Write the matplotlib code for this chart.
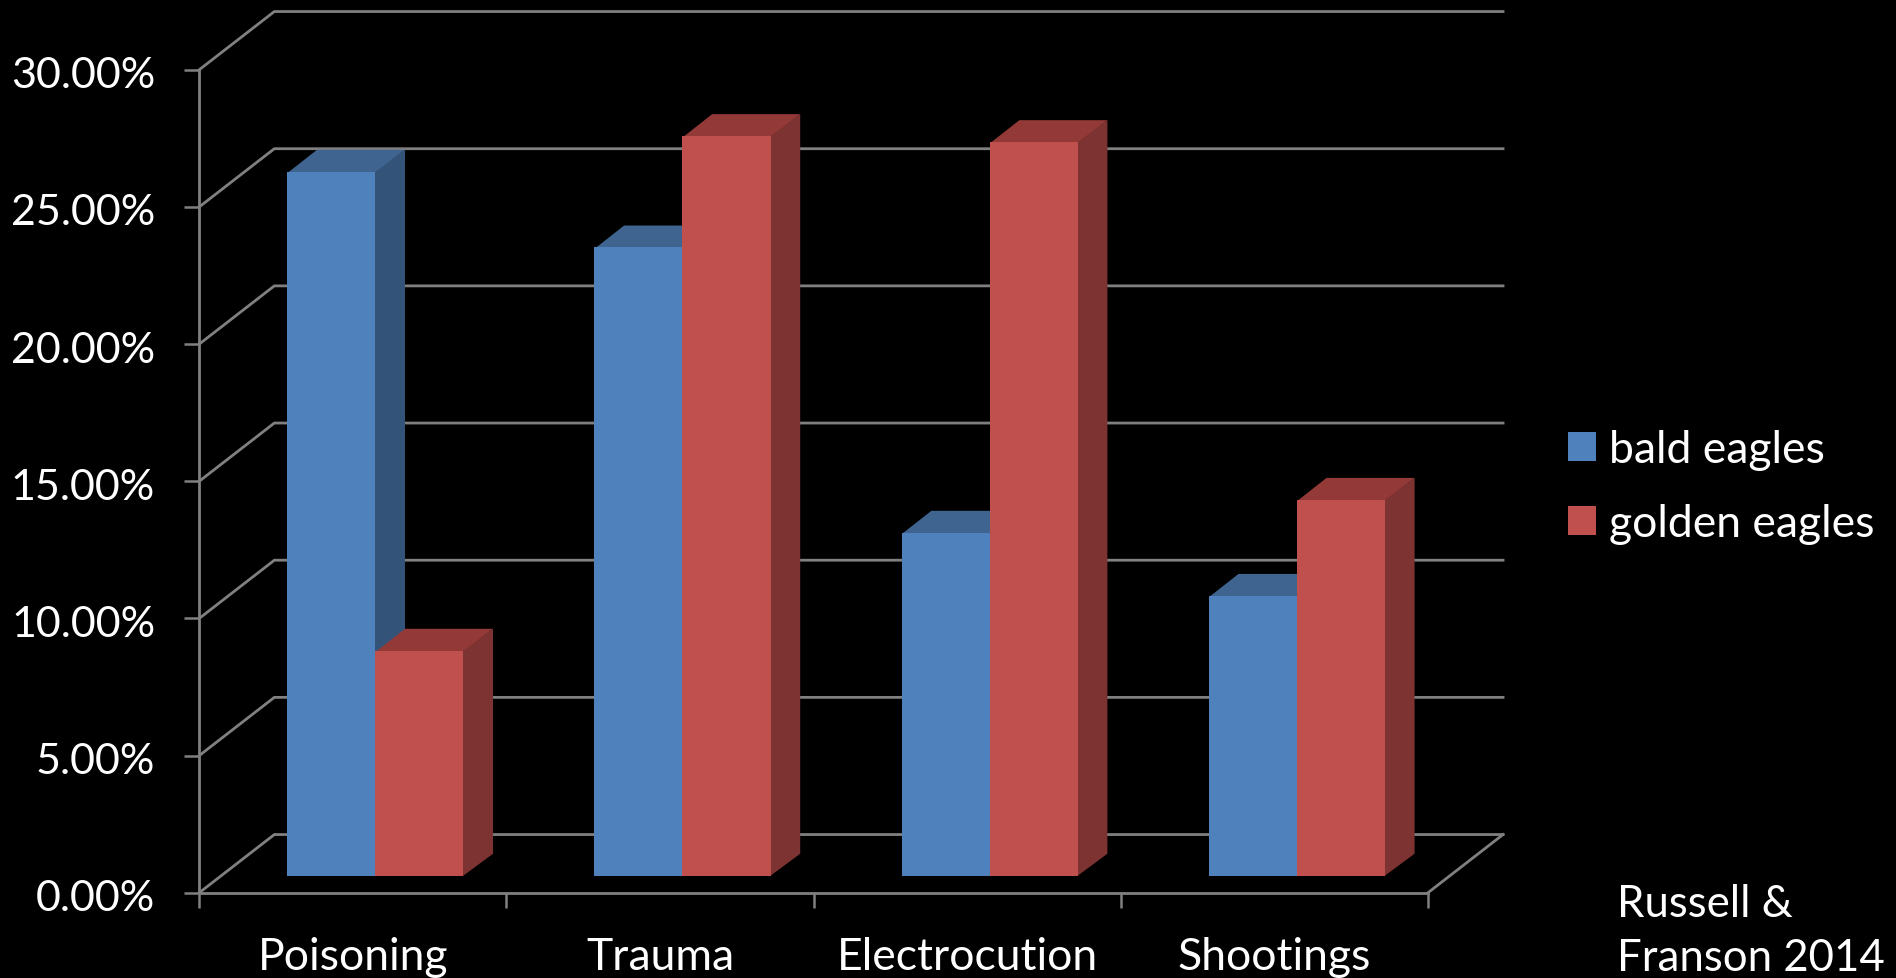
import matplotlib
matplotlib.use("Agg")
import matplotlib.pyplot as plt
from matplotlib.patches import Patch, Polygon
from matplotlib.transforms import ScaledTranslation

categories = ["Poisoning", "Trauma", "Electrocution", "Shootings"]
bald_eagles = [25.66, 22.90, 12.50, 10.20]
golden_eagles = [8.20, 26.96, 26.74, 13.70]
y_ticks = [0, 5, 10, 15, 20, 25, 30]

BG = "#000000"
GRID = "#808080"
BLUE = ("#4F81BD", "#3F6490", "#345379")
RED = ("#C0504D", "#933A38", "#7D3331")

W, H, DPI = 1896, 979, 100
LEFT, RIGHT, BOTTOM, TOP = 199.3, 1428.0, 893.7, 70.7

plt.rcParams["font.family"] = ["Lato", "DejaVu Sans"]
fig = plt.figure(figsize=(W / DPI, H / DPI), dpi=DPI, facecolor=BG)
ax = fig.add_axes([LEFT / W, 1 - BOTTOM / H, (RIGHT - LEFT) / W, (BOTTOM - TOP) / H],
                  facecolor=BG)
n = len(categories)
ax.set_xlim(0, n)
ax.set_ylim(0, 30)

# oblique projection of the chart box, in data units
wall_dx, wall_dy = 0.2443, 2.12
bar_dx, bar_dy = 0.0967, 0.80
bar_lift = 0.62
bar_w = 0.2866
group_shift = 0.073

# back wall gridlines with their leading diagonals
for v in y_ticks:
    ax.plot([0, wall_dx, n + wall_dx], [v, v + wall_dy, v + wall_dy],
            color=GRID, lw=2.0, clip_on=False, zorder=1, solid_joinstyle="miter")
ax.plot([n, n + wall_dx], [0, wall_dy], color=GRID, lw=2.0, clip_on=False, zorder=1)


def draw_series(values, offset, colors, z):
    front, top, side = colors
    for i, v in enumerate(values):
        x0 = i + 0.5 + group_shift + offset
        x1 = x0 + bar_w
        y0 = bar_lift
        y1 = bar_lift + v
        # side and top sit under the front face, overlapping it slightly to hide seams
        inner = x1 - 0.004
        ax.add_patch(Polygon([(x0, y1 - 0.05), (x1, y1 - 0.05), (x1 + bar_dx, y1 + bar_dy), (x0 + bar_dx, y1 + bar_dy)],
                             closed=True, fc=top, lw=0, clip_on=False, zorder=z))
        ax.add_patch(Polygon([(inner, y0), (inner, y1), (x1, y1), (x1 + bar_dx, y1 + bar_dy), (x1 + bar_dx, y0 + bar_dy), (x1, y0)],
                             closed=True, fc=side, lw=0, clip_on=False, zorder=z))
        ax.bar(x0, v, width=bar_w, bottom=y0, align="edge", color=front, lw=0, zorder=z + 1)


draw_series(bald_eagles, -bar_w, BLUE, 3)
draw_series(golden_eagles, 0, RED, 5)

# axes, ticks and labels
for name in ("top", "right"):
    ax.spines[name].set_visible(False)
for name in ("left", "bottom"):
    ax.spines[name].set_color(GRID)
    ax.spines[name].set_linewidth(2.0)
    ax.spines[name].set_zorder(2)

ax.set_yticks(y_ticks)
ax.set_yticklabels([f"{v:.2f}%" for v in y_ticks])
ax.set_xticks(range(n + 1))
ax.set_xticklabels([])
ax.set_xticks([i + 0.5 for i in range(n)], minor=True)
ax.set_xticklabels(categories, minor=True)
ax.tick_params(axis="y", length=10.8, width=1.8, color=GRID, labelcolor="white",
               labelsize=31, pad=21)
ax.tick_params(axis="x", which="major", length=10.8, width=1.8, color=GRID)
ax.tick_params(axis="x", which="minor", length=0, labelcolor="white", labelsize=32, pad=31)

# nudge the value labels slightly below their ticks
nudge = ScaledTranslation(0, -2 / DPI, fig.dpi_scale_trans)
for label in ax.get_yticklabels():
    label.set_transform(label.get_transform() + nudge)

handles = [Patch(fc=BLUE[0], lw=0, label="bald eagles"),
           Patch(fc=RED[0], lw=0, label="golden eagles")]
fig.legend(handles=handles, loc="upper left", bbox_to_anchor=(1568 / W, 1 - 430 / H),
           bbox_transform=fig.transFigure, frameon=False, fontsize=32, labelcolor="white",
           handlelength=0.62, handleheight=0.62, handletextpad=0.3, labelspacing=0.74,
           borderpad=0, borderaxespad=0)

fig.text(1617 / W, 1 - 917 / H, "Russell &", color="white", fontsize=31.5, va="baseline", ha="left")
fig.text(1617 / W, 1 - 971 / H, "Franson 2014", color="white", fontsize=31.5, va="baseline", ha="left")

fig.savefig("out.png", dpi=DPI, facecolor=BG)
